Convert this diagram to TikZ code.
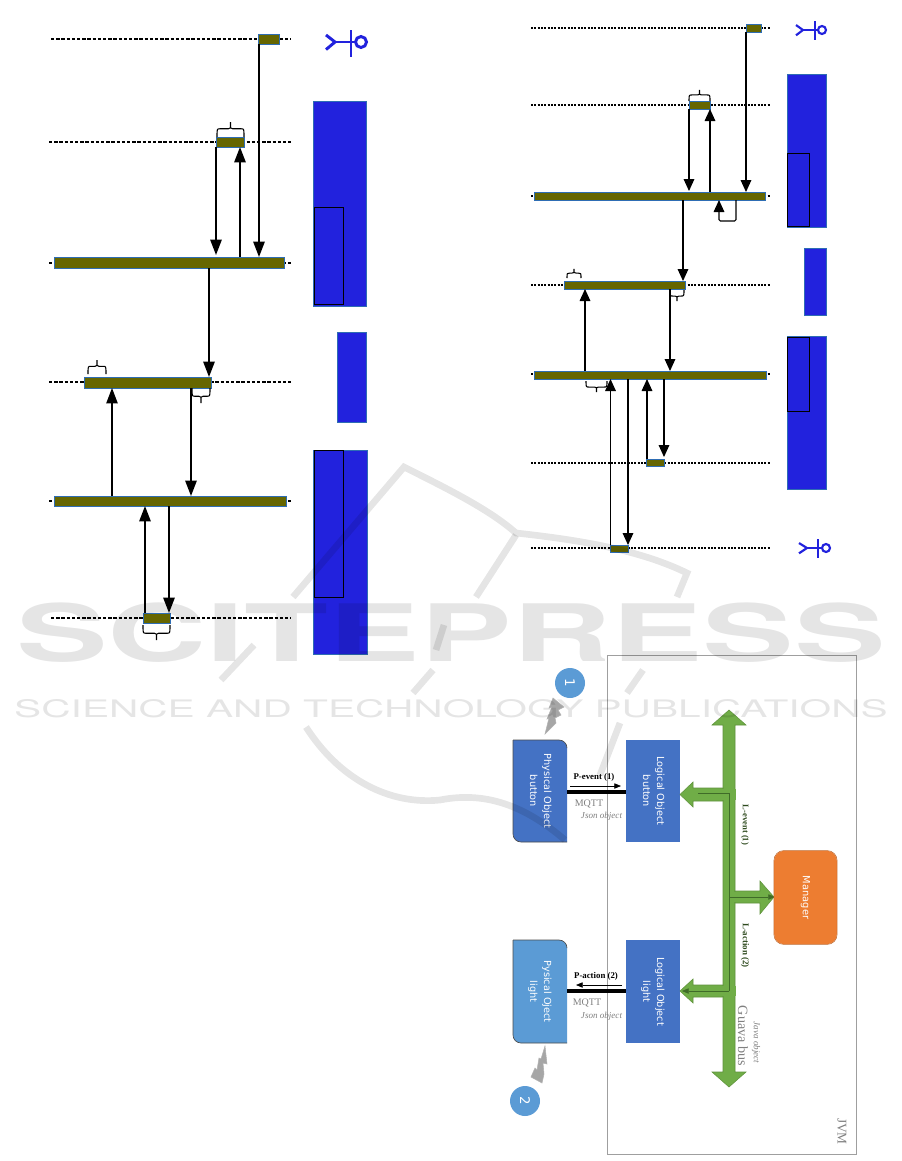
\documentclass[tikz,border=0pt]{standalone}
\usepackage{fontspec}
\usepackage{graphicx}
\setmainfont{Liberation Serif}
\newfontfamily\boxfont{DejaVu Sans}
\newfontfamily\wmfont{TeX Gyre Heros}
\usetikzlibrary{arrows.meta,calc}
\definecolor{lineblue}{HTML}{2E6DB4}
\definecolor{royal}{HTML}{2222DD}
\definecolor{olivebar}{HTML}{666600}
\definecolor{objdark}{HTML}{4472C4}
\definecolor{objlight}{HTML}{5B9BD5}
\definecolor{busgreen}{HTML}{70AD47}
\definecolor{busdark}{HTML}{3F6B28}
\definecolor{mgr}{HTML}{ED7D31}
\definecolor{graytxt}{HTML}{808080}
\definecolor{lbl}{HTML}{2E4A1E}
\tikzset{
  barbox/.style={draw=lineblue,line width=0.55pt,fill=olivebar,inner sep=0pt,outer sep=0pt},
  bluebox/.style={draw=lineblue,line width=0.55pt,fill=royal,inner sep=0pt,outer sep=0pt},
  innerbox/.style={draw=black,line width=0.6pt,inner sep=0pt,outer sep=0pt},
  objbox/.style={fill=objdark,inner sep=0pt,outer sep=0pt,text=white,font=\boxfont\fontsize{7.3}{10.5}\selectfont},
  lifeL/.style={line width=1.2pt,dash pattern=on 2.6pt off 1.3pt},
  lifeR/.style={line width=0.9pt,dash pattern=on 1.6pt off 0.9pt},
  arrL/.style={line width=1.3pt,-{Triangle[length=11.5pt,width=8.5pt]}},
  arrT/.style={line width=0.9pt,-{Triangle[length=11.5pt,width=8.5pt]}},
  arrR/.style={line width=0.85pt,-{Triangle[length=9pt,width=8pt]}},
  actor/.style={draw=royal,line width=2.2pt},
  bracepath/.style={line width=0.8pt},
  bolt/.style={draw=gray!60,fill=gray!70,line width=0.4pt},
  bus/.style={fill=busgreen,draw=busgreen!85!black,line width=0.4pt},
  dk/.style={draw=busdark,line width=0.45pt},
  msg/.style={font=\bfseries\fontsize{6.6}{8}\selectfont,inner sep=0pt},
  gtxt/.style={text=graytxt,inner sep=0pt},
  wm/.style={opacity=0.1,text=black,inner sep=0pt},
  swoosh/.style={draw=black,opacity=0.1,line width=5pt},
}
\newcommand\bx[6]{\node[#6,minimum width={(#4-#2)*0.75pt},minimum height={(#5-#3)*0.75pt}] (#1) at ({(#2+#4)/2},{(#3+#5)/2}) {};}
\newcommand\tbx[7]{\node[#6,minimum width={(#4-#2)*0.75pt},minimum height={(#5-#3)*0.75pt}] (#1) at ({(#2+#4)/2},{(#3+#5)/2}) {\rotatebox{-90}{\begin{tabular}{@{}c@{}}#7\end{tabular}}};}
% flat brace: x1, x2, base y, tip y
\newcommand\flatbrace[4]{\draw[bracepath] (#1,#3)
   .. controls (#1,{#3+(#4-#3)*0.55}) and (#1,{#3+(#4-#3)*0.55}) .. ({#1+3},{#3+(#4-#3)*0.55})
   -- ({(#1+#2)/2-2},{#3+(#4-#3)*0.55})
   .. controls ({(#1+#2)/2},{#3+(#4-#3)*0.55}) and ({(#1+#2)/2},{#3+(#4-#3)*0.55}) .. ({(#1+#2)/2},#4)
   .. controls ({(#1+#2)/2},{#3+(#4-#3)*0.55}) and ({(#1+#2)/2},{#3+(#4-#3)*0.55}) .. ({(#1+#2)/2+2},{#3+(#4-#3)*0.55})
   -- ({#2-3},{#3+(#4-#3)*0.55})
   .. controls (#2,{#3+(#4-#3)*0.55}) and (#2,{#3+(#4-#3)*0.55}) .. (#2,#3);}
\newcommand\actorfig[8]{% circle x,y,r ; bar x, y1,y2 ; hip x ; leg x
  \draw[actor] (#1,#2) circle[radius=#3*0.75pt];
  \draw[actor] (#4,#5) -- (#4,#6);
  \draw[actor] (#1-#3,#2) -- (#7,#2);
  \draw[actor] (#8,{#2-(#6-#5)*0.26}) -- (#7,#2) -- (#8,{#2+(#6-#5)*0.28});}
\begin{document}
\begin{tikzpicture}[x=0.75pt,y=-0.75pt]
\useasboundingbox (0,0) rectangle (901,1161);
\fill[white] (0,0) rectangle (901,1161);

% ---- left sequence diagram ----
\foreach \yy/\xa in {39/51,142/49,263/49,382/49,501/49,618/51}
  \draw[lifeL] (\xa,\yy) -- (291,\yy);
\bx{La}{258}{34}{279}{44}{barbox}
\bx{Lb}{216}{137}{244}{147}{barbox}
\bx{Lc}{54}{257}{284}{268}{barbox}
\bx{Ld}{84}{377}{211}{388}{barbox}
\bx{Le}{54}{496}{286}{506}{barbox}
\bx{Lf}{143}{613}{170}{623}{barbox}
\draw[arrL] (259,0 |- La.south) -- (259,0 |- Lc.north);
\draw[arrL] (216,0 |- Lb.south) -- (216,255);
\draw[arrL] (240,0 |- Lc.north) -- (240,0 |- Lb.south);
\draw[arrL] (209,0 |- Lc.south) -- (209,0 |- Ld.north);
\draw[arrT] (112,0 |- Le.north) -- (112,0 |- Ld.south);
\draw[arrL] (191,0 |- Ld.south) -- (191,0 |- Le.north);
\draw[arrL] (145,0 |- Lf.north) -- (145,0 |- Le.south);
\draw[arrL] (169,0 |- Le.south) -- (169,0 |- Lf.north);
\flatbrace{217}{244}{137}{122}
\flatbrace{88}{106}{374}{360}
\flatbrace{192}{210}{388}{403}
\flatbrace{143}{170}{625}{640}
\bx{Lr1}{313}{101}{366}{306}{bluebox}
\bx{Lr1i}{314}{207}{343}{304}{innerbox}
\bx{Lr2}{337}{332}{366}{422}{bluebox}
\bx{Lr3}{313}{450}{367}{654}{bluebox}
\bx{Lr3i}{314}{450}{343}{597}{innerbox}
\actorfig{361}{42}{5.5}{351}{30}{57}{335}{326}

% ---- right sequence diagram ----
\foreach \yy in {28,105,196,285,374,463,548}
  \draw[lifeR] (531,\yy) -- (770,\yy);
\bx{Ra}{746}{24}{761}{32}{barbox}
\bx{Rb}{689}{101}{710}{109}{barbox}
\bx{Rc}{534}{192}{765}{200}{barbox}
\bx{Rd}{564}{281}{685}{289}{barbox}
\bx{Re}{534}{371}{766}{379}{barbox}
\bx{Rf}{646}{459}{664}{466}{barbox}
\bx{Rg}{610}{545}{628}{552}{barbox}
\draw[arrR] (746,0 |- Ra.south) -- (746,0 |- Rc.north);
\draw[arrR] (689,0 |- Rb.south) -- (689,191);
\draw[arrR] (710,0 |- Rc.north) -- (710,0 |- Rb.south);
\draw[arrR,rounded corners=1pt] (736,0 |- Rc.south) -- (736,221) -- (719,221) -- (719,0 |- Rc.south);
\draw[arrR] (683,0 |- Rc.south) -- (683,0 |- Rd.north);
\draw[arrR] (585,0 |- Re.north) -- (585,0 |- Rd.south);
\draw[arrR] (670,0 |- Rd.south) -- (670,0 |- Re.north);
\draw[arrR] (610.5,0 |- Rg.north) -- (610.5,0 |- Re.south);
\draw[arrR] (628,0 |- Re.south) -- (628,0 |- Rg.north);
\draw[arrR] (647,0 |- Rf.north) -- (647,0 |- Re.south);
\draw[arrR] (664,0 |- Re.south) -- (664,457);
\flatbrace{689}{710}{101}{90}
\flatbrace{567}{581}{278}{269}
\flatbrace{670}{684}{290}{301}
\flatbrace{586}{607}{381}{392}
\bx{Rr1}{787}{74}{826}{227}{bluebox}
\bx{Rr1i}{787.5}{153}{809}{226}{innerbox}
\bx{Rr2}{804}{248}{826}{315}{bluebox}
\bx{Rr3}{787}{336}{826}{489}{bluebox}
\bx{Rr3i}{787.5}{337}{809}{411}{innerbox}
\begin{scope}[actor/.append style={line width=1.6pt}]
\actorfig{822}{30}{4}{815}{21}{40}{803}{796}
\actorfig{826}{548}{4}{818}{539}{558}{807}{799}
\end{scope}

% ---- bottom architecture diagram ----
\draw[draw=gray!75,line width=0.7pt] (607,655) rectangle (856,1154);

% objects
\fill[objdark] (513,740) -- (559,740) arc[start angle=90,end angle=0,radius=6pt] -- (567,842) -- (521,842) arc[start angle=270,end angle=180,radius=6pt] -- cycle;
\draw[black!70,line width=0.5pt] (513,740) -- (559,740) arc[start angle=90,end angle=0,radius=6pt];
\draw[black!70,line width=0.5pt] (567,842) -- (521,842) arc[start angle=270,end angle=180,radius=6pt] -- (513,740);
\tbx{physb}{513}{740}{567}{842}{objbox,fill=none}{Physical Object\\button}
\tbx{logb}{626}{740}{680}{842}{objbox}{Logical Object\\button}
\fill[objlight] (513,940) -- (559,940) arc[start angle=90,end angle=0,radius=6pt] -- (567,1043) -- (521,1043) arc[start angle=270,end angle=180,radius=6pt] -- cycle;
\draw[black!70,line width=0.5pt] (513,940) -- (559,940) arc[start angle=90,end angle=0,radius=6pt];
\draw[black!70,line width=0.5pt] (567,1043) -- (521,1043) arc[start angle=270,end angle=180,radius=6pt] -- (513,940);
\tbx{physl}{513}{940}{567}{1043}{objbox,fill=none}{Pysical Oject\\light}
\tbx{logl}{626}{940}{680}{1043}{objbox}{Logical Object\\light}

% MQTT links
\draw[line width=3.2pt] (physb.east |- 0,792) -- (logb.west |- 0,792);
\draw[line width=3.2pt] (physl.east |- 0,991) -- (logl.west |- 0,991);
\draw[line width=0.5pt,-{Triangle[length=5pt,width=4pt]}] (570,786) -- (621,786);
\draw[line width=0.5pt,-{Triangle[length=5pt,width=4pt]}] (622,985) -- (576,985);
\node[msg] (pev) at (594,777) {P-event (1)};
\node[msg] (pac) at (596,976) {P-action (2)};
\node[gtxt,font=\fontsize{7.5}{9}\selectfont] (mq1) at (589,804) {MQTT};
\node[gtxt,font=\fontsize{7.5}{9}\selectfont] (mq2) at (587,1003) {MQTT};
\node[gtxt,font=\itshape\fontsize{6.8}{8}\selectfont] (js1) at (601.5,816) {Json object};
\node[gtxt,font=\itshape\fontsize{6.8}{8}\selectfont] (js2) at (601.5,1016) {Json object};

% badges and lightning
\node[circle,fill=objlight,minimum size=22.5pt,inner sep=0pt,text=white,font=\boxfont\fontsize{10}{10}\selectfont] (c1) at (570,683) {\rotatebox{-90}{1}};
\node[circle,fill=objlight,minimum size=22.5pt,inner sep=0pt,text=white,font=\boxfont\fontsize{10}{10}\selectfont] (c2) at (525,1101) {\rotatebox{-90}{2}};
\draw[bolt] (545,734) -- (549,718) -- (547,719) -- (552,707) -- (549,708) -- (553,698) -- (564,707) -- (558,710) -- (561,715) -- (555,718) -- (556,723) -- cycle;
\draw[bolt] (545,1046) -- (547,1064) -- (543,1063) -- (544,1074) -- (542,1083) -- (531,1077) -- (535,1068) -- (537,1070) -- (539,1058) -- (541,1059) -- cycle;

% Guava bus
\draw[bus] (729,710) -- (746,725) -- (735,725) -- (735,1072) -- (746,1072) -- (729,1087) -- (712,1072) -- (723,1072) -- (723,725) -- (712,725) -- cycle;
\draw[bus] (723,788) -- (693,788) -- (693,782) -- (680,794.5) -- (693,807) -- (693,801) -- (723,801) -- cycle;
\draw[bus] (723,985) -- (693,985) -- (693,979) -- (680,991) -- (693,1003) -- (693,997) -- (723,997) -- cycle;
\draw[bus] (735,891) -- (760,891) -- (760,881) -- (774,897) -- (760,914) -- (760,903) -- (735,903) -- cycle;
\fill[busgreen] (722,789) rectangle (736,800);
\fill[busgreen] (722,986) rectangle (736,996);
\fill[busgreen] (724,892) rectangle (736,902);
\coordinate (busT) at (698,793);
\draw[dk] (busT) -- (729,793) -- (729,991);
\draw[dk,-{Triangle[length=5pt,width=4pt]}] (729,897) -- (775,897);
\draw[dk,-{Triangle[length=5pt,width=4pt]}] (729,991) -- (682,991);
\node[fill=mgr,rounded corners=7.5pt,minimum width=47pt,minimum height=70pt,inner sep=0pt,text=white,font=\boxfont\fontsize{7.4}{9}\selectfont] (manager) at (805.5,897.5) {\rotatebox{-90}{Manager}};
\draw[mgr!80!black,line width=0.4pt,rounded corners=7.5pt] (manager.south west) rectangle (manager.north east);

\node[msg,text=lbl,font=\bfseries\fontsize{6.4}{8}\selectfont,rotate=-90] (lev) at (745,825) {L-event (1)};
\node[msg,text=lbl,font=\bfseries\fontsize{6.7}{8}\selectfont,rotate=-90] (lac) at (745,945.5) {L-action (2)};
\node[gtxt,rotate=-90,font=\fontsize{10.6}{12}\selectfont] (gb) at (743,1036) {Guava bus};
\node[gtxt,rotate=-90,font=\itshape\fontsize{6.8}{8}\selectfont] (jo) at (756,1042.5) {Java object};
\node[gtxt,rotate=-90,font=\fontsize{10}{12}\selectfont] (jvm) at (842,1131.5) {JVM};

% ---- publisher watermark ----
\node[wm,anchor=center] (wm1) at (451,632.5) {\resizebox{652pt}{44pt}{\wmfont\bfseries SCITEPRESS}};
\node[wm,anchor=center] (wm2) at (451,709) {\resizebox{655pt}{13.5pt}{\wmfont SCIENCE AND TECHNOLOGY PUBLICATIONS}};
\draw[swoosh] (293,597) -- (404,467) .. controls (450,490) and (490,510) .. (516,533) .. controls (580,540) and (640,550) .. (687,573) -- (677,597);
\draw[swoosh] (476,597) -- (516,535);
\draw[swoosh] (254,645) -- (221,680);
\draw[swoosh] (433,670) -- (413,693);
\draw[swoosh] (643,670) -- (627,693);
\draw[swoosh] (444,625) -- (436,650);
\draw[swoosh] (620,723) -- (600,775);
\draw[swoosh] (306,727) .. controls (340,780) and (390,805) .. (440,800) .. controls (490,790) and (530,810) .. (565,840);
\end{tikzpicture}
\end{document}
